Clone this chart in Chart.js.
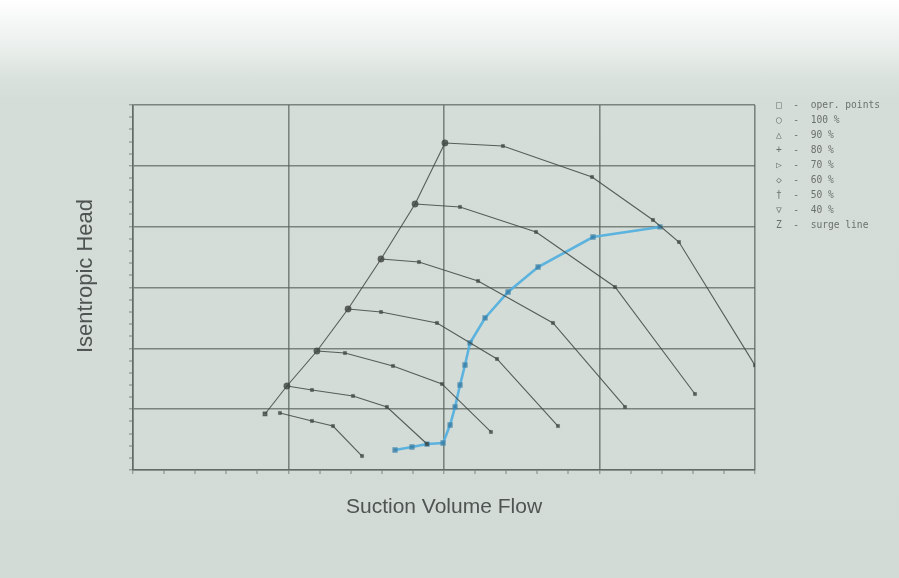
<!DOCTYPE html>
<html>
<head>
<meta charset="utf-8">
<script src="https://cdn.jsdelivr.net/npm/chart.js@4.4.1/dist/chart.umd.min.js"></script>
<style>
  html, body { margin: 0; padding: 0; }
  body {
    width: 899px; height: 578px; overflow: hidden;
    background: linear-gradient(to bottom, #ffffff 0px, #f7f8f8 18px, #e9eeeb 50px, #dae2dd 78px, #d5ddd8 100px, #d3dbd6 578px);
  }
  #wrap { position: relative; width: 899px; height: 578px; }
</style>
</head>
<body>
<div id="wrap"><canvas id="c" width="899" height="578"></canvas></div>
<script>
// ---- data (flow in grid units, head in grid units) ----
const surgeFlow = [0.849, 0.990, 1.183, 1.383, 1.595, 1.814, 2.006];
const surgeHead = [0.921, 1.381, 1.956, 2.647, 3.469, 4.373, 5.376];

const flow100 = [2.006, 2.379, 2.952, 3.344, 3.511, 4.000];
const head100 = [5.376, 5.326, 4.817, 4.110, 3.748, 1.720];

const flow90 = [1.814, 2.103, 2.592, 3.100, 3.614];
const head90 = [4.373, 4.324, 3.913, 3.008, 1.249];

const flow80 = [1.595, 1.839, 2.219, 2.701, 3.164];
const head80 = [3.469, 3.419, 3.107, 2.417, 1.036];

const flow70 = [1.383, 1.595, 1.955, 2.341, 2.733];
const head70 = [2.647, 2.597, 2.417, 1.825, 0.723];

const flow60 = [1.183, 1.363, 1.672, 1.987, 2.302];
const head60 = [1.956, 1.923, 1.710, 1.414, 0.625];

const flow50 = [0.990, 1.151, 1.415, 1.633, 1.891];
const head50 = [1.381, 1.315, 1.217, 1.036, 0.427];

const flow40 = [0.945, 1.151, 1.286, 1.473];
const head40 = [0.937, 0.806, 0.723, 0.230];

const operFlow = [1.685, 1.794, 1.891, 1.994, 2.039, 2.071, 2.103, 2.135, 2.167, 2.264, 2.412, 2.605, 2.958, 3.389];
const operHead = [0.329, 0.378, 0.427, 0.444, 0.740, 1.036, 1.397, 1.726, 2.088, 2.499, 2.926, 3.337, 3.830, 3.995];

const legendLines = [
  "\u25A1  -  oper. points",
  "\u25CB  -  100 %",
  "\u25B3  -  90 %",
  "+  -  80 %",
  "\u25B7  -  70 %",
  "\u25C7  -  60 %",
  "\u2020  -  50 %",
  "\u25BD  -  40 %",
  "Z  -  surge line"
];
const xTitle = "Suction Volume Flow";
const yTitle = "Isentropic Head";

// ---- build datasets ----
function pts(xs, ys) { return xs.map((x, i) => ({ x: x, y: ys[i] })); }
const lineCol = 'rgba(62,70,66,0.85)';
function speedCurve(xs, ys, label, firstBig) {
  return {
    label: label,
    data: pts(xs, ys),
    showLine: true,
    borderColor: lineCol,
    borderWidth: 1.1,
    backgroundColor: 'rgba(62,70,66,0.8)',
    pointBorderColor: 'rgba(62,70,66,0.8)',
    pointBorderWidth: 0.5,
    pointStyle: (c) => (firstBig && c.dataIndex === 0) ? 'circle' : 'rect',
    pointRadius: (c) => (firstBig && c.dataIndex === 0) ? 3.2 : 2.2,
    tension: 0
  };
}

const datasets = [
  {
    label: 'surge line',
    data: pts(surgeFlow, surgeHead),
    showLine: true,
    borderColor: lineCol,
    borderWidth: 1.1,
    backgroundColor: 'rgba(62,70,66,0.75)',
    pointBorderColor: 'rgba(62,70,66,0.75)',
    pointStyle: 'rect',
    pointRadius: (c) => c.dataIndex === 0 ? 2.6 : 0,
    tension: 0
  },
  speedCurve(flow100, head100, '100 %', true),
  speedCurve(flow90, head90, '90 %', true),
  speedCurve(flow80, head80, '80 %', true),
  speedCurve(flow70, head70, '70 %', true),
  speedCurve(flow60, head60, '60 %', true),
  speedCurve(flow50, head50, '50 %', true),
  speedCurve(flow40, head40, '40 %', false),
  {
    label: 'oper. points',
    data: pts(operFlow, operHead),
    showLine: true,
    borderColor: 'rgba(84,176,222,0.95)',
    borderWidth: 2.6,
    backgroundColor: 'rgba(60,130,170,0.75)',
    pointBorderColor: 'rgba(60,130,170,0.75)',
    pointStyle: 'rect',
    pointRadius: 1.9,
    tension: 0
  }
];

const isMajor = (v) => Math.abs(v - Math.round(v)) < 1e-6;
const gridCol = 'rgba(88,98,92,0.72)';

const textPlugin = {
  id: 'texts',
  afterDraw(chart) {
    const ctx = chart.ctx;
    ctx.save();
    ctx.fillStyle = '#4e5451';
    ctx.textAlign = 'center';
    ctx.textBaseline = 'middle';
    ctx.font = '21px "Liberation Sans", Arial, sans-serif';
    ctx.fillText(xTitle, 444, 507);
    ctx.translate(86, 276);
    ctx.rotate(-Math.PI / 2);
    ctx.font = '22px "Liberation Sans", Arial, sans-serif';
    ctx.fillText(yTitle, 0, 0);
    ctx.restore();

    ctx.save();
    ctx.fillStyle = '#6b716e';
    ctx.textAlign = 'left';
    ctx.textBaseline = 'middle';
    ctx.font = '9.6px "DejaVu Sans Mono", monospace';
    legendLines.forEach((t, i) => {
      ctx.fillText(t, 776, 105 + i * 15);
    });
    ctx.restore();
  }
};

new Chart(document.getElementById('c'), {
  type: 'scatter',
  data: { datasets: datasets },
  options: {
    responsive: false,
    animation: false,
    devicePixelRatio: 1,
    layout: { padding: { left: 129, right: 144, top: 105, bottom: 104 } },
    plugins: { legend: { display: false }, tooltip: { enabled: false }, title: { display: false } },
    scales: {
      x: {
        type: 'linear', min: 0, max: 4,
        ticks: { display: false, stepSize: 0.2 },
        grid: {
          drawTicks: true, tickLength: 4,
          color: (c) => isMajor(c.tick.value) ? gridCol : 'rgba(0,0,0,0)',
          lineWidth: (c) => isMajor(c.tick.value) ? 1.6 : 0,
          tickColor: 'rgba(88,98,92,0.7)', tickWidth: 1
        },
        border: { display: true, color: gridCol, width: 1.6 }
      },
      y: {
        type: 'linear', min: 0, max: 6,
        ticks: { display: false, stepSize: 0.2 },
        grid: {
          drawTicks: true, tickLength: 4,
          color: (c) => isMajor(c.tick.value) ? gridCol : 'rgba(0,0,0,0)',
          lineWidth: (c) => isMajor(c.tick.value) ? 1.6 : 0,
          tickColor: 'rgba(88,98,92,0.7)', tickWidth: 1
        },
        border: { display: true, color: gridCol, width: 1.6 }
      }
    }
  },
  plugins: [textPlugin]
});
</script>
</body>
</html>
